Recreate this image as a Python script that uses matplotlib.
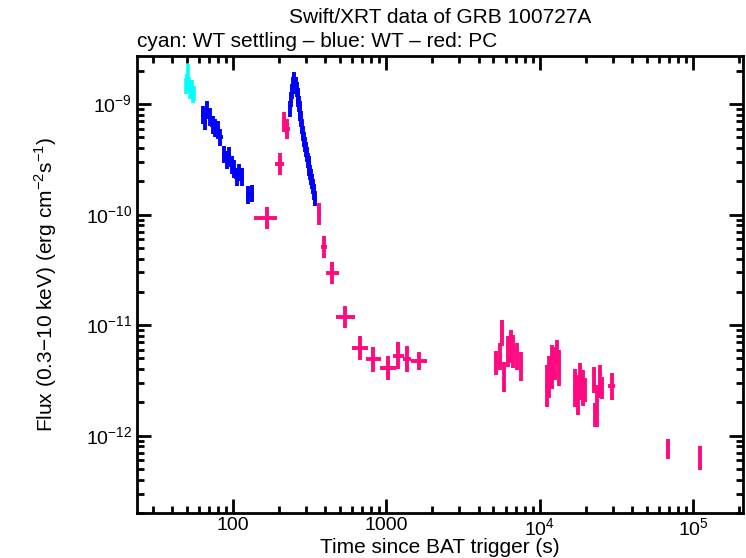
import numpy as np
import matplotlib.pyplot as plt
from matplotlib.ticker import LogLocator, NullFormatter, FuncFormatter, FixedLocator

plt.rcParams['font.family'] = ['Liberation Sans', 'DejaVu Sans']
plt.rcParams['mathtext.fontset'] = 'custom'
plt.rcParams['mathtext.rm'] = 'Liberation Sans'

x_major = [1e2, 1e3, 1e4, 1e5]
y_major = [1e-12, 1e-11, 1e-10, 1e-9]

# WT settling (cyan)
t_cyan = [49.5, 50.3, 51.1, 52.0, 52.8, 53.8, 54.8, 56.0]
f_cyan = [1.45e-9, 1.6e-9, 1.95e-9, 1.5e-9, 1.3e-9, 1.4e-9, 1.2e-9, 1.25e-9]

# WT (blue), first decay
t_wt1 = [64, 66, 68, 71, 74, 77, 80, 83, 88, 91, 94, 98, 102, 106, 110, 114, 126, 133]
f_wt1 = [8.0e-10, 7.0e-10, 8.8e-10, 7.6e-10, 6.5e-10, 6.1e-10, 5.8e-10, 5.0e-10,
         3.5e-10, 3.1e-10, 3.4e-10, 2.8e-10, 2.6e-10, 2.2e-10, 2.4e-10, 2.2e-10,
         1.5e-10, 1.55e-10]

# WT (blue), flare
t_wt2 = [237, 240, 243, 246, 249, 252, 255, 258, 261, 264, 267, 270, 273, 276, 280,
         284, 288, 292, 296, 300, 304, 308, 312, 316, 320, 325, 330, 335, 340, 345]
f_wt2 = [9.0e-10, 1.1e-9, 1.3e-9, 1.5e-9, 1.65e-9, 1.6e-9, 1.45e-9, 1.5e-9, 1.35e-9,
         1.2e-9, 1.1e-9, 1.0e-9, 9.0e-10, 8.3e-10, 7.3e-10, 6.3e-10, 5.4e-10, 4.8e-10,
         4.3e-10, 3.9e-10, 3.5e-10, 3.1e-10, 2.9e-10, 2.6e-10, 2.4e-10, 2.2e-10,
         2.0e-10, 1.8e-10, 1.6e-10, 1.4e-10]

# PC (red)
t_pc = [166, 202, 216, 227, 365, 393, 444, 542, 672, 820, 1027, 1194, 1374, 1636,
        5224, 5546, 5680, 5850, 6190, 6475, 6740, 7160, 7555,
        11120, 11500, 11970, 12530, 13040, 13430,
        16980, 17700, 18330, 19070, 19650,
        22600, 23070, 23780, 24720, 25480,
        29440, 69200, 111400]
t_pc_lo = [137, 187, 208, 218, 352, 378, 404, 469, 598, 735, 907, 1105, 1290, 1460,
           5100, 5430, 5600, 5760, 6050, 6330, 6600, 7000, 7380,
           10850, 11300, 11750, 12250, 12800, 13200,
           16600, 17350, 18000, 18700, 19350,
           22200, 22800, 23400, 24300, 25100,
           28100, 68000, 109500]
t_pc_hi = [195, 217, 224, 236, 378, 410, 490, 623, 761, 930, 1153, 1300, 1460, 1850,
           5380, 5660, 5760, 5950, 6330, 6620, 6900, 7380, 7750,
           11400, 11750, 12200, 12800, 13300, 13800,
           17350, 18000, 18700, 19350, 20000,
           23000, 23400, 24200, 25100, 26000,
           30900, 70400, 113300]
f_pc = [9.4e-11, 2.85e-10, 6.9e-10, 6.0e-10, 1.01e-10, 5.1e-11, 2.95e-11, 1.18e-11,
        6.2e-12, 4.9e-12, 4.1e-12, 5.3e-12, 4.95e-12, 4.75e-12,
        4.55e-12, 5.2e-12, 8.5e-12, 3.4e-12, 5.8e-12, 6.4e-12, 5.8e-12, 5.2e-12, 4.2e-12,
        2.8e-12, 3.4e-12, 4.2e-12, 4.5e-12, 5.6e-12, 4.1e-12,
        2.7e-12, 2.35e-12, 3.1e-12, 2.7e-12, 2.6e-12,
        3.2e-12, 1.55e-12, 1.85e-12, 3.1e-12, 2.7e-12,
        2.8e-12, 7.6e-13, 6.3e-13]
f_pc_dex = [0.10, 0.10, 0.09, 0.09, 0.10, 0.10, 0.10, 0.10,
            0.11, 0.11, 0.11, 0.12, 0.12, 0.08,
            0.11, 0.12, 0.12, 0.14, 0.14, 0.15, 0.15, 0.12, 0.13,
            0.19, 0.19, 0.2, 0.15, 0.12, 0.16,
            0.17, 0.18, 0.17, 0.16, 0.11,
            0.12, 0.11, 0.19, 0.15, 0.10,
            0.12, 0.09, 0.11]


def yerr_dex(f, d):
    f = np.asarray(f)
    d = np.asarray(d)
    return [f - f / 10**d, f * 10**d - f]


fig = plt.figure(figsize=(7.46, 5.58), dpi=100)
ax = fig.add_axes([0.1836, 0.0806, 0.8124, 0.819])

pink = '#ff0a80'
ax.errorbar(t_cyan, f_cyan, xerr=np.array(t_cyan) * 0.01,
            yerr=yerr_dex(f_cyan, np.full(len(f_cyan), 0.07)),
            fmt='none', ecolor='cyan', elinewidth=2.6, capsize=0)
ax.errorbar(t_wt1, f_wt1, xerr=np.array(t_wt1) * 0.035,
            yerr=yerr_dex(f_wt1, np.full(len(f_wt1), 0.08)),
            fmt='none', ecolor='#0000ff', elinewidth=2.8, capsize=0)
ax.errorbar(t_wt2, f_wt2, xerr=np.array(t_wt2) * 0.006,
            yerr=yerr_dex(f_wt2, np.full(len(f_wt2), 0.07)),
            fmt='none', ecolor='#0000ff', elinewidth=2.8, capsize=0)
t_pc_a = np.array(t_pc, dtype=float)
ax.errorbar(t_pc_a, f_pc,
            xerr=[t_pc_a - np.array(t_pc_lo), np.array(t_pc_hi) - t_pc_a],
            yerr=yerr_dex(f_pc, f_pc_dex),
            fmt='none', ecolor=pink, elinewidth=2.8, capsize=0)

ax.set_xscale('log')
ax.set_yscale('log')
ax.set_xlim(23.7, 2.12e5)
ax.set_ylim(2.0e-13, 2.72e-9)

for s in ax.spines.values():
    s.set_linewidth(2)

ax.tick_params(which='both', direction='in', top=True, right=True, width=2, labelsize=14)
ax.tick_params(which='major', length=10)
ax.tick_params(which='minor', length=5)
ax.tick_params(axis='x', pad=3)
ax.xaxis.set_major_locator(FixedLocator(x_major))
ax.yaxis.set_major_locator(FixedLocator(y_major))
ax.xaxis.set_minor_locator(LogLocator(base=10, subs=np.arange(2, 10), numticks=20))
ax.yaxis.set_minor_locator(LogLocator(base=10, subs=np.arange(2, 10), numticks=20))
ax.xaxis.set_minor_formatter(NullFormatter())
ax.yaxis.set_minor_formatter(NullFormatter())


def xfmt(v, pos):
    e = int(round(np.log10(v)))
    if e == 2:
        return '100'
    if e == 3:
        return '1000'
    return r'$10^{%d}$' % e


ax.xaxis.set_major_formatter(FuncFormatter(xfmt))
ax.yaxis.set_major_formatter(FuncFormatter(lambda v, p: r'$10^{%d}$' % int(round(np.log10(v)))))

ax.set_xlabel('Time since BAT trigger (s)', fontsize=15)
ax.xaxis.set_label_coords(0.5, -0.054)
ax.set_ylabel(r'Flux (0.3$-$10 keV) (erg cm$^{-2}$s$^{-1}$)', fontsize=15)
ax.yaxis.set_label_coords(-0.128, 0.5)

fig.text(0.59, 0.968, 'Swift/XRT data of GRB 100727A', ha='center', va='center', fontsize=15)
fig.text(0.1836, 0.925, 'cyan: WT settling \u2013 blue: WT \u2013 red: PC', ha='left', va='center', fontsize=15)

fig.savefig('out.png', dpi=100)
